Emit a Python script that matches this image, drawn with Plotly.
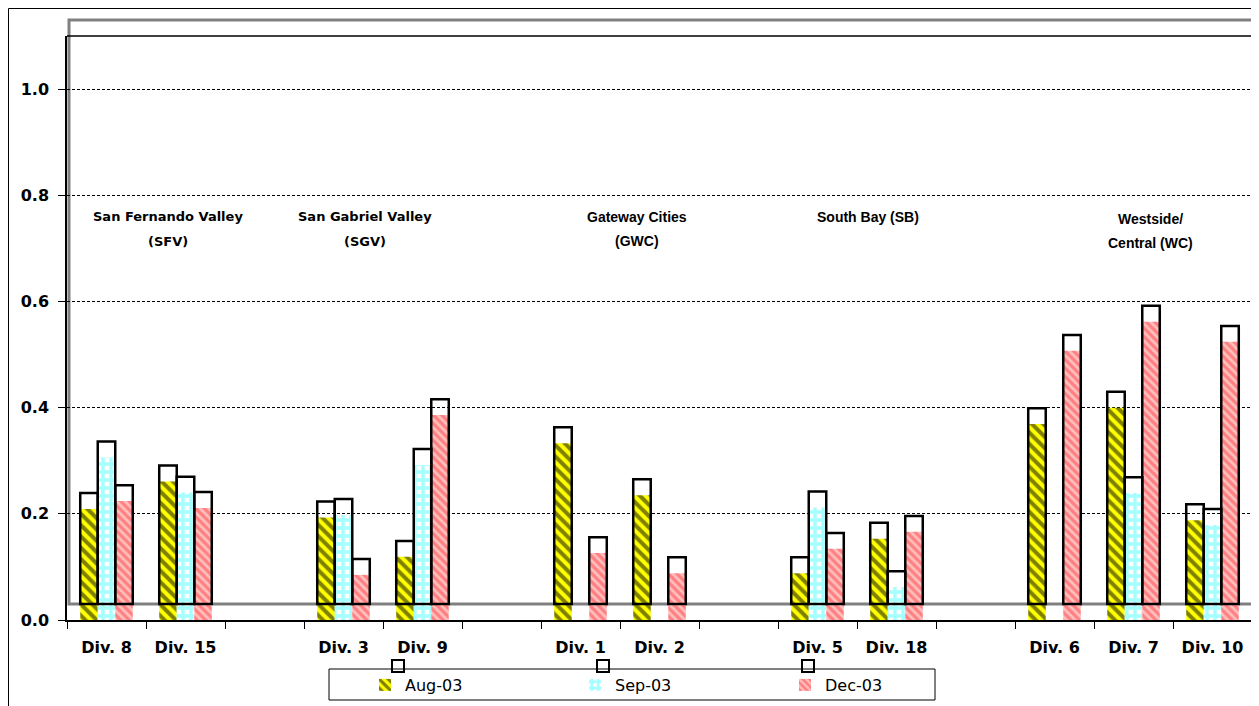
import plotly.graph_objects as go

# категории (пустые промежутки между районами)
categories = ["d8", "d15", "g1", "d3", "d9", "g2", "d1", "d2", "g3",
              "d5", "d18", "g4", "d6", "d7", "d10"]
tick_labels = ["Div. 8", "Div. 15", "", "Div. 3", "Div. 9", "", "Div. 1",
               "Div. 2", "", "Div. 5", "Div. 18", "", "Div. 6", "Div. 7",
               "Div. 10"]

aug_03 = [0.209, 0.261, None, 0.193, 0.119, None, 0.333, 0.235, None,
          0.088, 0.153, None, 0.369, 0.400, 0.188]
sep_03 = [0.306, 0.240, None, 0.198, 0.292, None, None, None, None,
          0.212, 0.062, None, None, 0.239, 0.179]
dec_03 = [0.224, 0.211, None, 0.085, 0.386, None, 0.126, 0.088, None,
          0.134, 0.166, None, 0.507, 0.562, 0.524]

region_labels = [
    ["San Fernando Valley", "(SFV)"],
    ["San Gabriel Valley", "(SGV)"],
    ["Gateway Cities", "(GWC)"],
    ["South Bay (SB)"],
    ["Westside/", "Central (WC)"],
]
region_x_px = [168, 365, 637, 868, 1150]
region_y_px = [217, 217, 217, 217, 219]

# страница рисуется с отступом body 8px, поэтому координаты экрана сдвигаем
OFF = 8
W, H = 1259 - OFF, 706 - OFF
L, R, T, B = 67 - OFF, 7, 36 - OFF, 86
PW, PH = W - L - R, H - T - B
Y_MAX = 1.1
DEPTH = 0.03  # смещение "3D" рамки


def px_x(x):
    return (x - OFF - L) / PW


def px_y(y):
    return (H - B - (y - OFF)) / PH


WIDE = "DejaVu Sans, Verdana, sans-serif"
NARROW = "Liberation Sans, Arial, sans-serif"
region_fonts = [(WIDE, 13), (WIDE, 13), (NARROW, 14), (NARROW, 14), (NARROW, 14)]

series = [
    ("Aug-03", aug_03, "aug",
     dict(color="#FFFF00", pattern=dict(shape="\\", fgcolor="black", bgcolor="#FFFF00",
                                        size=8, solidity=0.5))),
    ("Sep-03", sep_03, "sep",
     dict(color="#4DFFFF", pattern=dict(shape="+", fgcolor="#4DFFFF", bgcolor="white",
                                        size=8, solidity=0.68))),
    ("Dec-03", dec_03, "dec",
     dict(color="#FF8080", pattern=dict(shape="\\", fgcolor="white", bgcolor="#FF8080",
                                        size=6, solidity=0.45))),
]

fig = go.Figure()
for name, vals, grp, marker in series:
    fig.add_trace(go.Bar(x=categories, y=vals, name=name, offsetgroup=grp,
                         marker=dict(line=dict(width=0), **marker)))
for name, vals, grp, marker in series:
    fig.add_trace(go.Bar(x=categories, y=vals, base=DEPTH, offsetgroup=grp,
                         showlegend=False, hoverinfo="skip",
                         marker=dict(color="rgba(0,0,0,0)",
                                     line=dict(color="black", width=2.5))))

shapes = [
    # задняя стенка
    dict(type="rect", xref="paper", yref="paper", layer="below",
         x0=px_x(69), x1=px_x(1255), y0=DEPTH / Y_MAX, y1=(Y_MAX + DEPTH) / Y_MAX,
         line=dict(color="#808080", width=3)),
    dict(type="line", xref="paper", yref="paper", x0=0, x1=1, y0=1, y1=1,
         line=dict(color="black", width=1.5)),
    # рамка всей диаграммы
    dict(type="rect", xref="paper", yref="paper",
         x0=px_x(8.5), x1=px_x(1264), y0=px_y(712), y1=px_y(8.5),
         line=dict(color="black", width=1)),
    # рамка легенды
    dict(type="rect", xref="paper", yref="paper",
         x0=px_x(329), x1=px_x(935), y0=px_y(700), y1=px_y(669),
         line=dict(color="black", width=1)),
]
for sx in [392, 597, 802]:
    shapes.append(dict(type="rect", xref="paper", yref="paper",
                       x0=px_x(sx), x1=px_x(sx + 12), y0=px_y(672), y1=px_y(660),
                       line=dict(color="black", width=2)))

annotations = []
for lines, xp, yp, (fam, fs) in zip(region_labels, region_x_px, region_y_px, region_fonts):
    for i, line in enumerate(lines):
        annotations.append(dict(
            x=px_x(xp), y=px_y(yp + 24 * i), xref="paper", yref="paper",
            text=line, showarrow=False, xanchor="center", yanchor="middle",
            font=dict(family=fam, size=fs, color="black", weight="bold")))

fig.update_layout(
    width=W, height=H,
    margin=dict(l=L, r=R, t=T, b=B, autoexpand=False),
    paper_bgcolor="white", plot_bgcolor="white",
    barmode="group", bargap=0.335, bargroupgap=0,
    showlegend=True,
    legend=dict(orientation="h", x=px_x(365), y=px_y(685), xanchor="left",
                yanchor="middle", entrywidth=165, entrywidthmode="pixels",
                bgcolor="rgba(0,0,0,0)", borderwidth=0,
                font=dict(family=WIDE, size=16, color="black")),
    shapes=shapes,
    annotations=annotations,
)
fig.update_xaxes(type="category", categoryorder="array", categoryarray=categories,
                 tickvals=categories, ticktext=tick_labels,
                 tickson="boundaries", ticks="outside", ticklen=7,
                 tickcolor="black", showline=True, linecolor="black", linewidth=1.5,
                 showgrid=False, ticklabelstandoff=12,
                 tickfont=dict(family=WIDE, size=16, color="black", weight="bold"))
fig.update_yaxes(range=[0, Y_MAX], tickvals=[0, 0.2, 0.4, 0.6, 0.8, 1.0],
                 tickformat=".1f", ticks="outside", ticklen=7, tickcolor="black",
                 showline=True, linecolor="black", linewidth=1.5, zeroline=False,
                 showgrid=True, gridcolor="black", gridwidth=1, griddash="3px,2px",
                 ticklabelstandoff=6,
                 tickfont=dict(family=WIDE, size=16, color="black", weight="bold"))

fig.write_html("out.html")
